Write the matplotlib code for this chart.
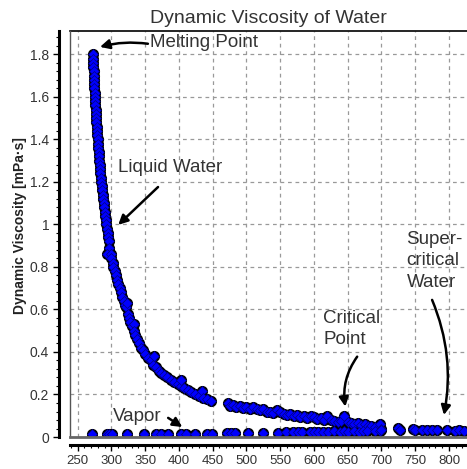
import matplotlib.pyplot as plt
from matplotlib.lines import Line2D
from matplotlib.ticker import MultipleLocator

plt.rcParams['font.family'] = ['Liberation Sans', 'DejaVu Sans']

# liquid branch, melting point down to ~450 K
liquid_t = [272.6, 272.8, 273.0, 273.2, 273.5, 274.0, 273.8, 274.5, 274.3, 275.0,
            275.5, 275.3, 276.2, 276.5, 277.0, 277.4, 277.8, 278.3, 278.6, 279.2,
            279.6, 280.0, 280.5, 281.0, 281.6, 282.0, 282.6, 283.1, 283.7, 284.2,
            285.0, 285.6, 286.4, 287.0, 287.8, 288.4, 289.2, 290.0, 290.8, 291.6,
            292.5, 293.4, 294.2, 295.0, 296, 297, 293.5, 299, 300, 302,
            303, 305, 306, 308, 310, 312, 314, 316, 318, 320,
            322, 323.5, 324, 326, 328, 330, 333.5, 333, 335, 338,
            341, 344, 347, 350, 354, 358, 362, 363.5, 366, 370,
            374, 378, 383, 388, 393, 398, 403, 403.5, 408, 413,
            418, 424, 430, 433.5, 436, 442, 448]
liquid_mu = [1.80, 1.78, 1.76, 1.74, 1.72, 1.70, 1.68, 1.66, 1.64, 1.62,
             1.60, 1.58, 1.56, 1.54, 1.52, 1.50, 1.48, 1.46, 1.44, 1.42,
             1.40, 1.38, 1.36, 1.34, 1.32, 1.30, 1.28, 1.26, 1.24, 1.22,
             1.20, 1.18, 1.16, 1.14, 1.12, 1.10, 1.08, 1.06, 1.04, 1.02,
             1.00, 0.98, 0.96, 0.94, 0.92, 0.89, 0.86, 0.86, 0.84, 0.82,
             0.80, 0.78, 0.76, 0.74, 0.72, 0.70, 0.68, 0.66, 0.64, 0.62,
             0.61, 0.63, 0.58, 0.56, 0.54, 0.52, 0.53, 0.50, 0.48, 0.46,
             0.44, 0.42, 0.41, 0.39, 0.37, 0.36, 0.34, 0.38, 0.33, 0.31,
             0.30, 0.29, 0.28, 0.27, 0.26, 0.25, 0.24, 0.27, 0.23, 0.22,
             0.21, 0.20, 0.195, 0.215, 0.185, 0.18, 0.17]

# dense fluid band from 470 K to the critical region
hot_t = [472, 475, 480, 485, 490, 495, 500, 505, 510, 515,
         520, 525, 530, 535, 540, 545, 550, 555, 560, 565,
         570, 575, 580, 585, 590, 595, 600, 605, 610, 615,
         620, 625, 630, 635, 640, 645, 650, 655, 660, 665,
         670, 675, 680, 685, 690, 698, 700]
hot_mu = [0.16, 0.145, 0.15, 0.14, 0.145, 0.135, 0.14, 0.13, 0.14, 0.13,
          0.125, 0.13, 0.12, 0.12, 0.115, 0.125, 0.12, 0.11, 0.105, 0.11,
          0.10, 0.105, 0.095, 0.10, 0.09, 0.10, 0.095, 0.085, 0.09, 0.08,
          0.10, 0.08, 0.075, 0.07, 0.075, 0.10, 0.07, 0.065, 0.06, 0.065,
          0.055, 0.06, 0.05, 0.05, 0.045, 0.06, 0.04]

# vapor row
vapor_t = [271, 293.5, 297, 301, 323.5, 348.5, 366, 373.5, 383.5, 403.5,
           411, 423.5, 441, 448.5, 471, 477, 483.5, 502, 525, 547,
           559, 569, 576, 582, 594, 600, 606, 613, 621, 630,
           639, 645, 651, 660, 666, 672, 678, 690, 698]
vapor_mu = [0.014, 0.014, 0.014, 0.014, 0.014, 0.014, 0.014, 0.015, 0.015, 0.015,
            0.015, 0.016, 0.016, 0.016, 0.017, 0.017, 0.018, 0.019, 0.019, 0.020,
            0.022, 0.022, 0.023, 0.023, 0.024, 0.024, 0.022, 0.025, 0.023, 0.026,
            0.024, 0.027, 0.025, 0.028, 0.025, 0.027, 0.027, 0.030, 0.030]

# supercritical points
super_t = [700, 724, 727, 746, 750, 760, 768, 775, 782, 797, 809, 815, 822]
super_mu = [0.035, 0.042, 0.032, 0.038, 0.033, 0.031, 0.032, 0.033, 0.031, 0.031, 0.030, 0.031, 0.030]

fig = plt.figure(figsize=(4.67, 4.69), dpi=100)
ax = fig.add_axes([0.1499, 0.0682, 0.8501, 0.8657])

for t, mu in [(liquid_t, liquid_mu), (hot_t, hot_mu), (vapor_t, vapor_mu), (super_t, super_mu)]:
    ax.plot(t, mu, linestyle='none', marker='o', markersize=7, color='black', zorder=3)
    ax.plot(t, mu, linestyle='none', marker='D', markersize=5.2, color='#0000ff',
            markeredgecolor='#000080', markeredgewidth=0.5, zorder=4)

ax.set_xlim(238.6, 826.7)
ax.set_ylim(0, 1.91)
ax.set_xticks(range(250, 801, 50))
ax.xaxis.set_minor_locator(MultipleLocator(10))
ax.set_yticks([0, 0.2, 0.4, 0.6, 0.8, 1, 1.2, 1.4, 1.6, 1.8])
ax.set_yticklabels(['0', '0.2', '0.4', '0.6', '0.8', '1', '1.2', '1.4', '1.6', '1.8'])
ax.yaxis.set_minor_locator(MultipleLocator(0.04))
ax.tick_params(axis='x', which='major', length=4, width=1, pad=3, labelsize=9.5, labelcolor='#333333')
ax.tick_params(axis='y', which='major', length=4, width=1, pad=3, labelsize=10, labelcolor='#333333')
ax.tick_params(which='minor', length=2.5, width=0.8)
ax.grid(True, linestyle=(0, (3, 3)), color='#999999', linewidth=0.9)
ax.set_axisbelow(True)

# outer axis bars carry the ticks
ax.spines['left'].set_position(('outward', 8))
ax.spines['bottom'].set_position(('outward', 6))
for side in ['left', 'bottom']:
    ax.spines[side].set_color('black')
    ax.spines[side].set_linewidth(2.2)
ax.spines['top'].set_color('black')
ax.spines['top'].set_linewidth(1.2)
ax.spines['right'].set_visible(False)

# inner frame of the plot area
ax.add_line(Line2D([0, 0], [0, 1], transform=ax.transAxes,
                   color='#555555', linewidth=1.0, clip_on=False, zorder=5))
ax.add_line(Line2D([0, 1], [0, 0], transform=ax.transAxes,
                   color='#666666', linewidth=2.0, clip_on=False, zorder=5))

ax.set_title('Dynamic Viscosity of Water', fontsize=14, color='#333333', pad=5.5)
ax.set_ylabel('Dynamic Viscosity [mPa·s]', fontsize=10, fontweight='bold', color='#222222')
ax.yaxis.set_label_coords(-0.108, 0.52)

arrow = dict(arrowstyle='-|>', color='black', lw=1.8, mutation_scale=14, shrinkA=0, shrinkB=0)
txt = dict(fontsize=13.5, color='#333333')

ax.annotate('', xy=(283, 1.835), xytext=(354, 1.85),
            arrowprops=dict(arrow, connectionstyle='arc3,rad=0.1'))
ax.text(357, 1.854, 'Melting Point', ha='left', va='center', **txt)

ax.annotate('', xy=(310, 0.998), xytext=(369, 1.176), arrowprops=arrow)
ax.text(310, 1.27, 'Liquid Water', ha='left', va='center', **txt)

ax.annotate('', xy=(405, 0.047), xytext=(384, 0.09), arrowprops=arrow)
ax.text(338.7, 0.096, 'Vapor', ha='center', va='center', **txt)

ax.annotate('', xy=(646.5, 0.143), xytext=(664, 0.378),
            arrowprops=dict(arrow, connectionstyle='arc3,rad=0.2'))
ax.text(614, 0.508, 'Critical\nPoint', ha='left', va='center', linespacing=1.32, **txt)

ax.annotate('', xy=(792.5, 0.1035), xytext=(775, 0.645),
            arrowprops=dict(arrow, connectionstyle='arc3,rad=-0.15'))
ax.text(737, 0.83, 'Super-\ncritical\nWater', ha='left', va='center', linespacing=1.35, **txt)

fig.savefig('out.png', dpi=100)
